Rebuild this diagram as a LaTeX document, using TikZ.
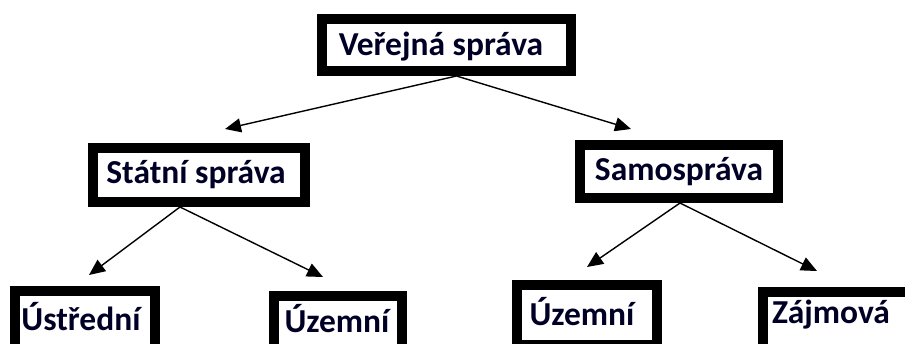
\documentclass[tikz,border=0pt]{standalone}
\usepackage{fontspec}
\setmainfont{Carlito}
\usetikzlibrary{arrows.meta}
\begin{document}
\begin{tikzpicture}[x=1pt,y=-1pt,
  box/.style={draw=black,line width=10pt,rectangle,inner sep=0pt,fill=white},
  lbl/.style={anchor=base,inner sep=0pt,font=\fontsize{33.5}{40}\selectfont\bfseries,text=black!85!blue},
  arr/.style={line width=1.4pt,-{Triangle[length=16pt,width=14pt]}}]
\useasboundingbox (0,0) rectangle (905,343);
\clip (0,0) rectangle (905,343);
% boxes
\node[box,minimum width=249pt,minimum height=52pt] (v) at (446.5,45) {};
\node[box,minimum width=212pt,minimum height=54pt] (s) at (199,175) {};
\node[box,minimum width=198pt,minimum height=53pt] (m) at (679,171.5) {};
\node[box,minimum width=140pt,minimum height=60pt] (u1) at (85,321) {};
\node[box,minimum width=128pt,minimum height=60pt] (u2) at (338,326) {};
\node[box,minimum width=140pt,minimum height=60pt] (u3) at (587,315) {};
\node[box,minimum width=160pt,minimum height=60pt] (z) at (843,322) {};
% labels
\node[lbl] (tv) at (441,55) {Veřejná správa};
\node[lbl] (ts) at (196,183) {Státní správa};
\node[lbl] (tm) at (679,180) {Samospráva};
\node[lbl] (tu1) at (81,330) {Ústřední};
\node[lbl] (tu2) at (337,332) {Územní};
\node[lbl] (tu3) at (582,325) {Územní};
\node[lbl] (tz) at (831,323) {Zájmová};
% arrow tips
\coordinate (a1) at (225,129);
\coordinate (a2) at (631,129);
\coordinate (b1) at (89,275);
\coordinate (b2) at (323,277);
\coordinate (c1) at (587,267);
\coordinate (c2) at (817,271);
% connectors
\draw[arr] ([xshift=10pt]v.south) -- (a1);
\draw[arr] ([xshift=10pt]v.south) -- (a2);
\draw[arr] ([xshift=-19pt]s.south) -- (b1);
\draw[arr] ([xshift=-19pt]s.south) -- (b2);
\draw[arr] ([xshift=1pt]m.south) -- (c1);
\draw[arr] ([xshift=1pt]m.south) -- (c2);
\end{tikzpicture}
\end{document}
